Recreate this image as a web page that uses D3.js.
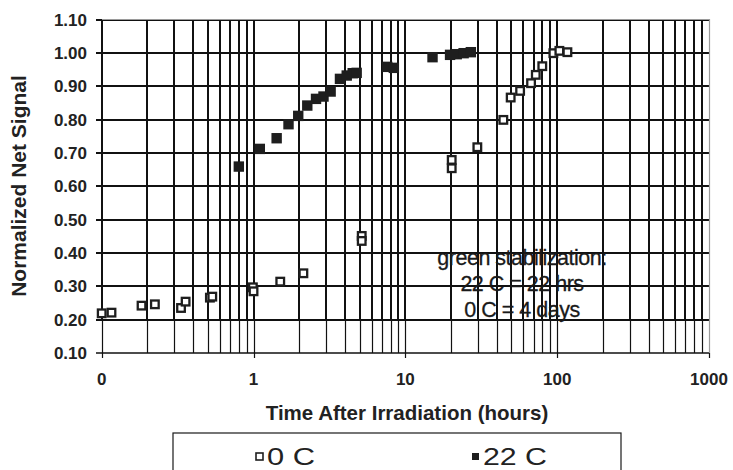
<!DOCTYPE html>
<html>
<head>
<meta charset="utf-8">
<script src="https://cdn.jsdelivr.net/npm/d3@7"></script>
<style>
body { margin: 0; background: #fff; }
svg { display: block; font-family: "Liberation Sans", Arial, sans-serif; }
</style>
</head>
<body>
<svg class="chart"></svg>
<script>
var width = 733;
var height = 470;

// 0 C series (hours, normalized signal)
var coldTime = [0.1, 0.116, 0.183, 0.224, 0.333, 0.357, 0.516, 0.535, 0.99, 1.0, 1.5, 2.13,
    5.16, 5.16, 20.2, 20.2, 29.8, 44.2, 49.4, 57, 67.3, 72.3, 79.8, 94.4, 103.4, 116.8];
var coldSignal = [0.219, 0.221, 0.242, 0.246, 0.235, 0.254, 0.266, 0.269, 0.297, 0.285, 0.314, 0.339,
    0.451, 0.436, 0.679, 0.654, 0.717, 0.799, 0.866, 0.886, 0.909, 0.934, 0.960, 0.999, 1.006, 1.002];

// 22 C series
var warmTime = [0.80, 1.10, 1.42, 1.70, 1.97, 2.26, 2.58, 2.89, 3.22, 3.71, 4.11, 4.5, 4.78,
    7.6, 8.4, 15.1, 19.7, 21.8, 24.2, 27.0];
var warmSignal = [0.659, 0.712, 0.744, 0.786, 0.811, 0.842, 0.862, 0.869, 0.884, 0.922, 0.932, 0.939, 0.940,
    0.958, 0.955, 0.987, 0.994, 0.996, 0.999, 1.002];

var xTicks = [0.1, 1, 10, 100, 1000];
var xTickLabels = ["0", "1", "10", "100", "1000"];
var yTicks = [0.1, 0.2, 0.3, 0.4, 0.5, 0.6, 0.7, 0.8, 0.9, 1.0, 1.1];
var noteLines = ["green stabilization:", "22 C = 22 hrs", "0 C = 4 days"];
var legendLabels = ["0 C", "22 C"];

var plot = {left: 101.7, right: 709, top: 19.5, bottom: 353};

var x = d3.scaleLog().domain([0.1, 1000]).range([plot.left, plot.right]);
var y = d3.scaleLinear().domain([0.1, 1.1]).range([plot.bottom, plot.top]);

// snap grid lines to whole pixels so they stay crisp
function xs(d) { return Math.round(x(d)); }
function ys(d) { return Math.round(y(d)); }

var chart = d3.select(".chart")
    .attr("width", width)
    .attr("height", height);

// minor + major vertical grid (1..9 in every decade)
var vLines = [];
xTicks.slice(0, -1).forEach(function(d) {
    for (var k = 1; k < 10; k++) vLines.push(d * k);
});

var grid = chart.append("g").attr("class", "grid");

// upper part of grid drawn heavier than the 0.1-0.2 band, as in the picture
grid.selectAll("line.vup")
    .data(vLines)
    .enter().append("line")
    .attr("x1", xs)
    .attr("x2", xs)
    .attr("y1", ys(1.1))
    .attr("y2", ys(0.2))
    .attr("stroke", "#111")
    .attr("stroke-width", 2);

grid.selectAll("line.vlow")
    .data(vLines)
    .enter().append("line")
    .attr("x1", function(d) { return xs(d) + 0.5; })
    .attr("x2", function(d) { return xs(d) + 0.5; })
    .attr("y1", ys(0.2))
    .attr("y2", ys(0.1))
    .attr("stroke", "#111")
    .attr("stroke-width", 1.2);

grid.selectAll("line.h")
    .data(yTicks)
    .enter().append("line")
    .attr("x1", Math.round(plot.left) - 6)
    .attr("x2", Math.round(plot.right))
    .attr("y1", ys)
    .attr("y2", ys)
    .attr("stroke", "#111")
    .attr("stroke-width", function(d) { return d < 0.15 ? 1.3 : 2; });

// grey frame on top / right
chart.append("path")
    .attr("d", "M" + xs(0.1) + "," + (ys(1.1) - 0.5) + "H" + (xs(1000) + 0.5) + "V" + ys(0.1))
    .attr("fill", "none")
    .attr("stroke", "#9a9a9a")
    .attr("stroke-width", 1.2);

// x ticks
chart.selectAll("line.xtick")
    .data(xTicks)
    .enter().append("line")
    .attr("x1", function(d) { return xs(d) + 0.5; })
    .attr("x2", function(d) { return xs(d) + 0.5; })
    .attr("y1", ys(0.1))
    .attr("y2", ys(0.1) + 5)
    .attr("stroke", "#111")
    .attr("stroke-width", 1.2);

// tick labels
chart.selectAll("text.ylab")
    .data(yTicks)
    .enter().append("text")
    .attr("x", 87)
    .attr("y", function(d) { return y(d); })
    .attr("dy", "0.36em")
    .attr("text-anchor", "end")
    .attr("font-size", 17)
    .attr("font-weight", "bold")
    .attr("fill", "#222")
    .text(function(d) { return d3.format(".2f")(d); });

chart.selectAll("text.xlab")
    .data(xTicks)
    .enter().append("text")
    .attr("x", function(d) { return x(d); })
    .attr("y", 385)
    .attr("text-anchor", "middle")
    .attr("font-size", 17)
    .attr("font-weight", "bold")
    .attr("fill", "#222")
    .text(function(d, i) { return xTickLabels[i]; });

// axis titles
chart.append("text")
    .attr("x", 407)
    .attr("y", 420)
    .attr("text-anchor", "middle")
    .attr("font-size", 20.5)
    .attr("font-weight", "bold")
    .attr("fill", "#222")
    .text("Time After Irradiation (hours)");

chart.append("text")
    .attr("transform", "translate(26,186) rotate(-90)")
    .attr("text-anchor", "middle")
    .attr("font-size", 21)
    .attr("font-weight", "bold")
    .attr("fill", "#222")
    .text("Normalized Net Signal");

// annotation
chart.selectAll("text.note")
    .data(noteLines)
    .enter().append("text")
    .attr("x", 522)
    .attr("y", function(d, i) { return 265 + i * 26; })
    .attr("text-anchor", "middle")
    .attr("font-size", 21.5)
    .attr("letter-spacing", -0.5)
    .attr("fill", "#1a1a1a")
    .attr("stroke", "#1a1a1a")
    .attr("stroke-width", 0.3)
    .text(function(d) { return d; });

// markers
var cold = coldTime.map(function(t, i) { return [t, coldSignal[i]]; });
var warm = warmTime.map(function(t, i) { return [t, warmSignal[i]]; });

chart.selectAll("rect.warm")
    .data(warm)
    .enter().append("rect")
    .attr("class", "warm")
    .attr("x", function(d) { return x(d[0]) - 5.2; })
    .attr("y", function(d) { return y(d[1]) - 5.2; })
    .attr("width", 10.4)
    .attr("height", 10.4)
    .attr("fill", "#1e1e1e");

chart.selectAll("rect.cold")
    .data(cold)
    .enter().append("rect")
    .attr("class", "cold")
    .attr("x", function(d) { return x(d[0]) - 3.8; })
    .attr("y", function(d) { return y(d[1]) - 3.8; })
    .attr("width", 7.6)
    .attr("height", 7.6)
    .attr("fill", "#fff")
    .attr("stroke", "#1e1e1e")
    .attr("stroke-width", 2.3);

// legend
var legend = chart.append("g").attr("class", "legend");
legend.append("rect")
    .attr("x", 173)
    .attr("y", 433)
    .attr("width", 448)
    .attr("height", 60)
    .attr("fill", "#fff")
    .attr("stroke", "#1a1a1a")
    .attr("stroke-width", 1.2);

var legendX = [256, 472];
var legendTextW = [48, 64];
legend.selectAll("rect.sym")
    .data(legendLabels)
    .enter().append("rect")
    .attr("x", function(d, i) { return legendX[i]; })
    .attr("y", 453)
    .attr("width", 7)
    .attr("height", 7)
    .attr("fill", function(d, i) { return i ? "#1e1e1e" : "#fff"; })
    .attr("stroke", "#1e1e1e")
    .attr("stroke-width", function(d, i) { return i ? 0 : 1.6; });

legend.selectAll("text")
    .data(legendLabels)
    .enter().append("text")
    .attr("x", function(d, i) { return legendX[i] + 11; })
    .attr("y", 465)
    .attr("font-size", 24)
    .attr("textLength", function(d, i) { return legendTextW[i]; })
    .attr("lengthAdjust", "spacingAndGlyphs")
    .attr("fill", "#222")
    .text(function(d) { return d; });
</script>
</body>
</html>
